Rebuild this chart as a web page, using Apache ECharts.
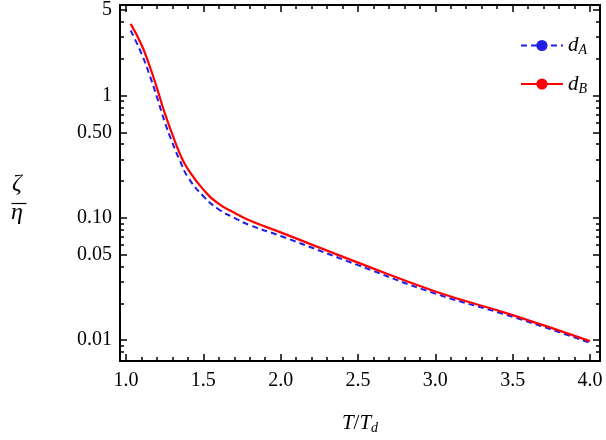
<!DOCTYPE html>
<html><head><meta charset="utf-8">
<script src="https://cdn.jsdelivr.net/npm/echarts@6/dist/echarts.min.js"></script>
<style>html,body{margin:0;background:#fff}#c{width:606px;height:440px}</style>
</head><body><div id="c"></div>
<script>
// values (y on log scale)
const xsB = [1.03, 1.1, 1.15, 1.2, 1.25, 1.3, 1.35, 1.4, 1.5, 1.6, 1.7, 1.8, 2.0, 2.5, 3.0, 3.5, 4.0];
const dB = [3.85, 2.6, 1.78, 1.15, 0.72, 0.48, 0.33, 0.25, 0.17, 0.13, 0.11, 0.095, 0.076, 0.043, 0.025, 0.016, 0.0098];
const xsA = [1.03, 1.1, 1.15, 1.2, 1.25, 1.3, 1.35, 1.4, 1.5, 1.6, 1.7, 1.8, 2.0, 2.5, 3.0, 3.5, 4.0];
const dA = [3.4, 2.2, 1.5, 0.97, 0.61, 0.41, 0.29, 0.215, 0.15, 0.117, 0.1, 0.087, 0.071, 0.041, 0.024, 0.0155, 0.0095];
const yMajor = [0.01, 0.05, 0.1, 0.5, 1, 5];
const yMajorLabels = ['0.01', '0.05', '0.10', '0.50', '1', '5'];
const yMinor = [0.008, 0.009, 0.02, 0.03, 0.04, 0.06, 0.07, 0.08, 0.09, 0.2, 0.3, 0.4, 0.6, 0.7, 0.8, 0.9, 2, 3, 4];
const xMajor = [1.0, 1.5, 2.0, 2.5, 3.0, 3.5, 4.0];

const lg = v => Math.log10(v);
const yMin = -2.171, yMax = 0.74;
const font = 'Liberation Serif';
const xMinor = [];
for (let i = 10; i <= 40; i++) if (i % 5) xMinor.push(i / 10);

const frame = { show: true, onZero: false, lineStyle: { color: '#000', width: 2 } };
const tick = (vals, len) => ({ show: true, inside: true, length: len, customValues: vals, lineStyle: { color: '#000', width: 1.5 } });
const noLabel = { show: false };

const yAxisBase = { type: 'value', min: yMin, max: yMax, splitLine: { show: false }, axisLine: frame };
const xAxisBase = { type: 'value', min: 0.961, max: 4.065, splitLine: { show: false }, axisLine: frame };

const chart = echarts.init(document.getElementById('c'));
chart.setOption({
  animation: false,
  textStyle: { fontFamily: font },
  grid: { left: 120, right: 6, top: 5, bottom: 75 },
  xAxis: [
    Object.assign({}, xAxisBase, { position: 'bottom', axisTick: tick(xMajor, 7),
      axisLabel: { customValues: xMajor, formatter: v => v.toFixed(1), color: '#000', fontSize: 20, fontFamily: font, margin: 10 },
      name: '{i|T}{n|/}{i|T}{s|d}', nameLocation: 'middle', nameGap: 50,
      nameTextStyle: { rich: { i: { fontStyle: 'italic', fontSize: 21, fontFamily: font }, n: { fontSize: 21, fontFamily: font }, s: { fontStyle: 'italic', fontSize: 14, fontFamily: font, padding: [10, 0, 0, 0] } }, fontSize: 21, fontFamily: font, color: '#000' } }),
    Object.assign({}, xAxisBase, { position: 'bottom', axisTick: tick(xMinor, 4), axisLabel: noLabel }),
    Object.assign({}, xAxisBase, { position: 'top', axisTick: tick(xMajor, 7), axisLabel: noLabel }),
    Object.assign({}, xAxisBase, { position: 'top', axisTick: tick(xMinor, 4), axisLabel: noLabel })
  ],
  yAxis: [
    Object.assign({}, yAxisBase, { position: 'left', axisTick: tick(yMajor.map(lg), 7),
      axisLabel: { customValues: yMajor.map(lg), formatter: v => yMajorLabels[yMajor.findIndex(m => Math.abs(lg(m) - v) < 1e-6)], color: '#000', fontSize: 20, fontFamily: font, margin: 8 } }),
    Object.assign({}, yAxisBase, { position: 'left', axisTick: tick(yMinor.map(lg), 4), axisLabel: noLabel }),
    Object.assign({}, yAxisBase, { position: 'right', axisTick: tick(yMajor.map(lg), 7), axisLabel: noLabel }),
    Object.assign({}, yAxisBase, { position: 'right', axisTick: tick(yMinor.map(lg), 4), axisLabel: noLabel })
  ],
  legend: {
    right: 14, top: 30, orient: 'vertical', itemGap: 16, itemWidth: 42, itemHeight: 14,
    textStyle: { fontSize: 21, fontFamily: font, color: '#000',
      rich: { i: { fontStyle: 'italic', fontSize: 21, fontFamily: font }, s: { fontStyle: 'italic', fontSize: 14, fontFamily: font, padding: [10, 0, 0, 0] } } },
    formatter: n => n === 'dA' ? '{i|d}{s|A}' : '{i|d}{s|B}',
    data: ['dA', 'dB']
  },
  graphic: [
    { type: 'text', left: 12, top: 172, style: { text: 'ζ', font: 'italic 24px "Liberation Serif"', fill: '#000' } },
    { type: 'line', left: 9, top: 201, shape: { x1: 0, y1: 0, x2: 15, y2: 0 }, style: { stroke: '#000', lineWidth: 1.2 } },
    { type: 'text', left: 11, top: 201, style: { text: 'η', font: 'italic 24px "Liberation Serif"', fill: '#000' } }
  ],
  series: [
    { name: 'dA', type: 'line', smooth: true, symbol: 'none', data: xsA.map((x, i) => [x, lg(dA[i])]),
      lineStyle: { color: '#1f1fe6', width: 2, type: [6, 4] }, itemStyle: { color: '#1f1fe6' }, z: 2 },
    { name: 'dB', type: 'line', smooth: true, symbol: 'none', data: xsB.map((x, i) => [x, lg(dB[i])]),
      lineStyle: { color: '#ff0000', width: 2.2 }, itemStyle: { color: '#ff0000' }, z: 3 }
  ]
});
</script></body></html>
